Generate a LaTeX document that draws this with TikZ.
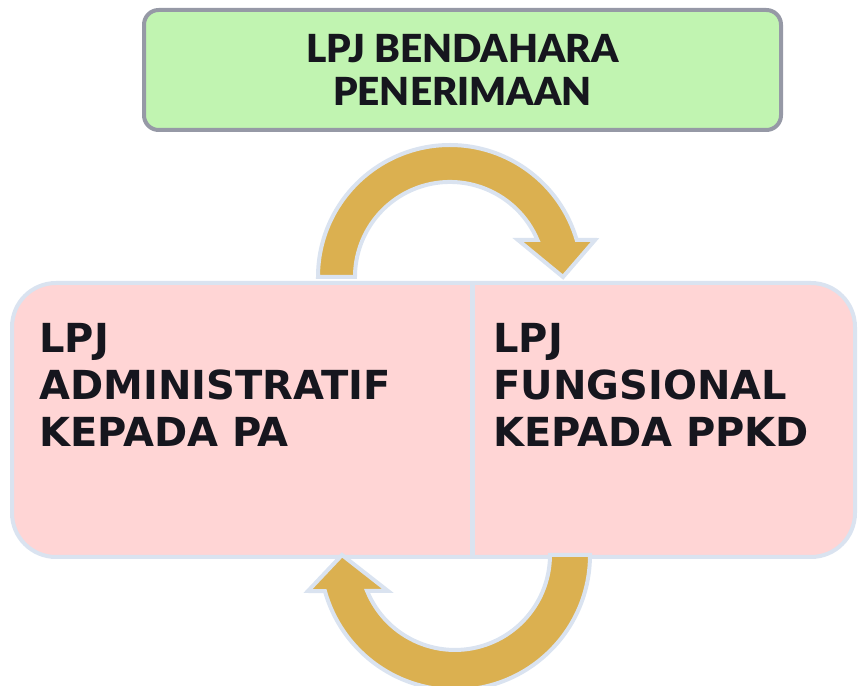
\documentclass[tikz,border=0pt]{standalone}
\usepackage{fontspec}
\newfontfamily\latofont{Lato}[BoldFont={Lato Black}]
\newfontfamily\boxfont{DejaVu Sans}
\definecolor{greenfill}{HTML}{C1F4B1}
\definecolor{grayline}{HTML}{9699A6}
\definecolor{pinkfill}{HTML}{FFD5D5}
\definecolor{blueline}{HTML}{DAE3F0}
\definecolor{goldfill}{HTML}{DBB050}
\definecolor{inkcol}{HTML}{16161E}
\tikzset{
  topbox/.style={draw=grayline, fill=greenfill, line width=3pt, rounded corners=11pt},
  mainbox/.style={draw=blueline, fill=pinkfill, line width=3pt, rounded corners=33pt},
  bentarrow/.style={draw=blueline, fill=goldfill, line width=3pt, line join=miter},
  toptext/.style={font=\latofont\bfseries\fontsize{29}{32}\selectfont, text=inkcol, align=center, inner sep=0pt},
  boxtext/.style={font=\boxfont\bfseries\fontsize{30}{35.25}\selectfont, text=inkcol, align=left, inner sep=0pt, anchor=north west}
}
\begin{document}
\begin{tikzpicture}[x=0.75pt, y=0.75pt]
\useasboundingbox (0,0) rectangle (858,686);
% top box
\draw[topbox] (144,676) rectangle (781,556);
\node[toptext] (top) at (462.5,616) {LPJ BENDAHARA\\PENERIMAAN};
% main box
\draw[mainbox] (12,403) rectangle (855,129);
\draw[blueline, line width=3.5pt] (472.5,403) -- (472.5,129);
\node[boxtext] (left) at (39,363) {LPJ\\ADMINISTRATIF\\KEPADA PA};
\node[boxtext] (right) at (493,363) {LPJ\\FUNGSIONAL\\KEPADA PPKD};
% top curved arrow
\draw[bentarrow] (318,409) arc[start angle=180, end angle=16.3, radius=132]
  -- (595,446) -- (563,409) -- (518,446) -- (537.5,446)
  arc[start angle=22.9, end angle=180, radius=95] -- cycle;
% bottom curved arrow
\draw[bentarrow] (590,131) arc[start angle=0, end angle=-164.5, radius=135]
  -- (308,95) -- (342,131) -- (388,95) -- (367.1,95)
  arc[start angle=-157.7, end angle=0, radius=95] -- cycle;
\end{tikzpicture}
\end{document}
